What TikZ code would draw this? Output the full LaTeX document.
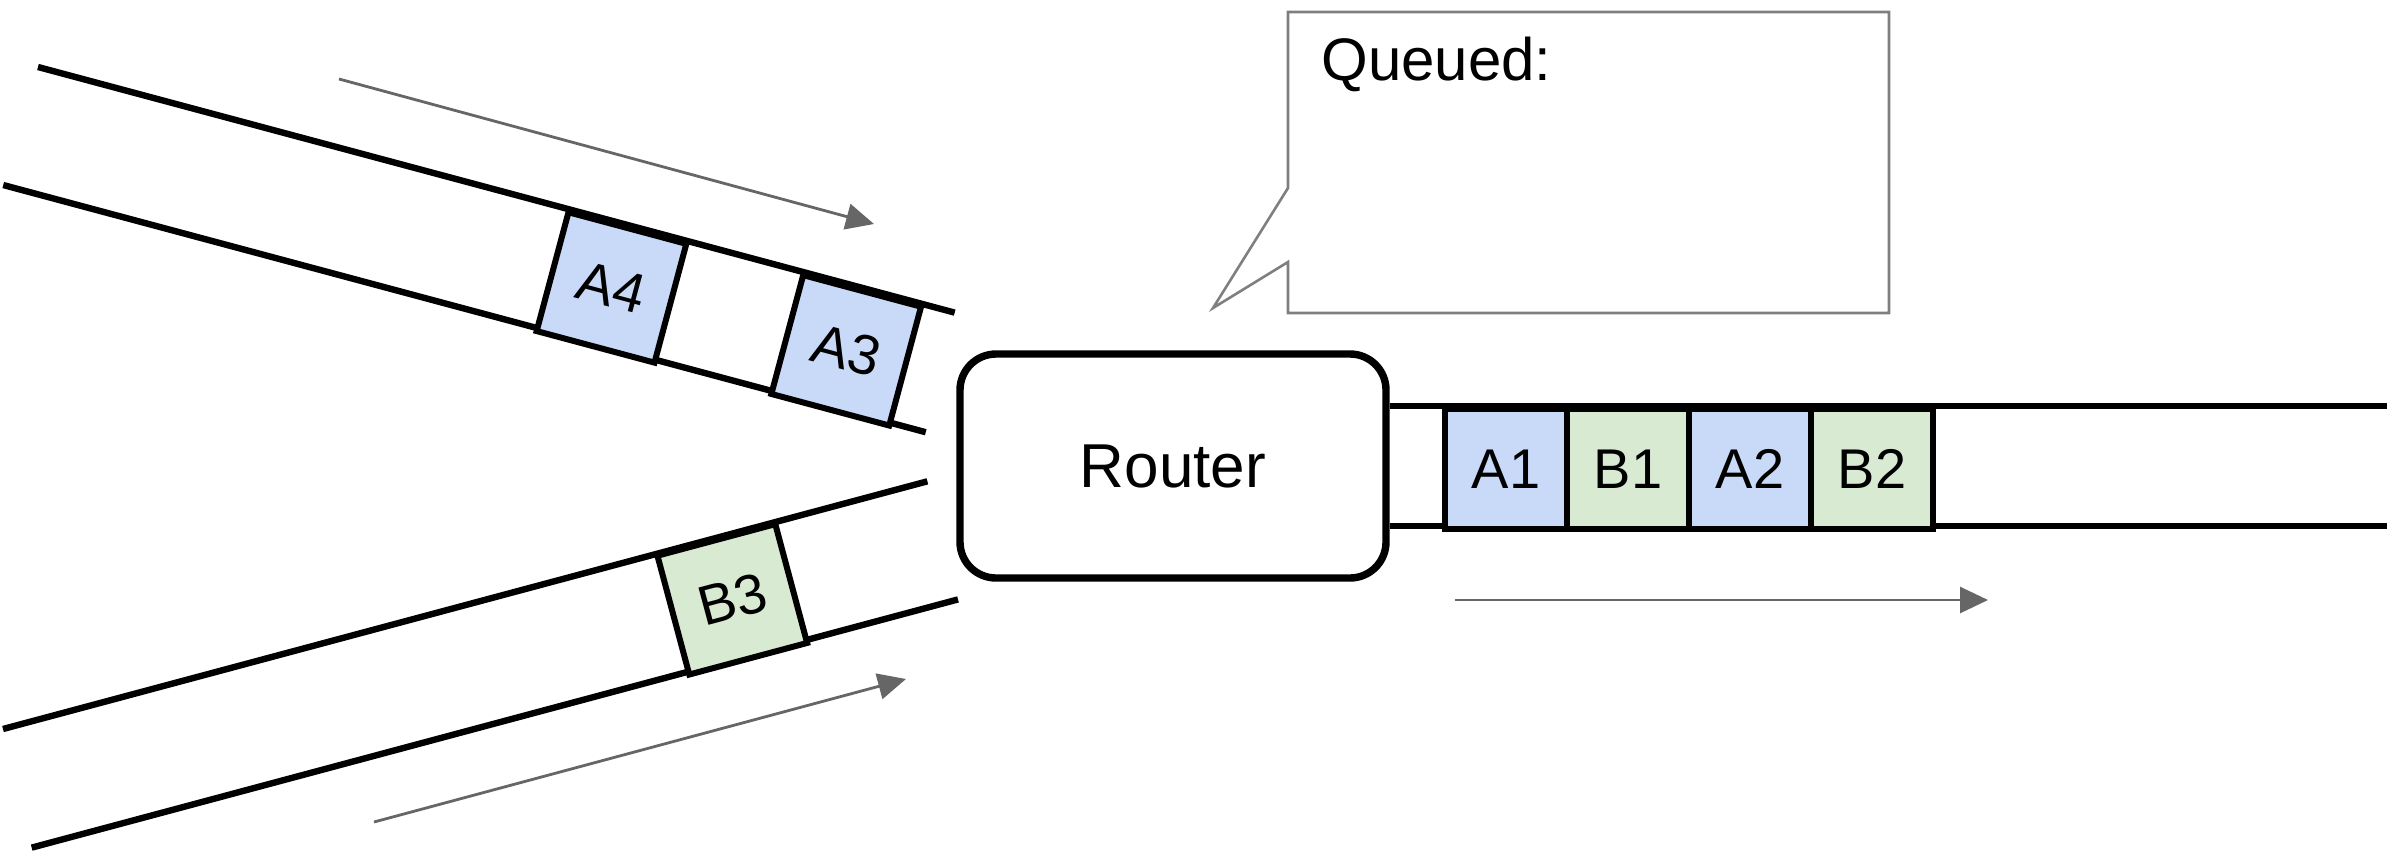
\documentclass[tikz,border=0pt]{standalone}
\usepackage{fontspec}
\setmainfont{Liberation Sans}
\usetikzlibrary{arrows.meta}
\definecolor{pktA}{HTML}{C9DAF8}
\definecolor{pktB}{HTML}{D9EAD3}
\definecolor{flowgray}{HTML}{666666}
\definecolor{calloutgray}{HTML}{7F7F7F}
\begin{document}
\begin{tikzpicture}[x=0.5pt,y=-0.5pt,
  wire/.style={line width=3.2pt, line cap=butt},
  pkt/.style={draw, line width=3pt, inner sep=0pt, anchor=north west,
    minimum width=61pt, font=\fontsize{28}{30}\selectfont},
  pktslant/.style={pkt, minimum height=61.5pt, transform shape},
  pktflat/.style={pkt, minimum height=60pt},
  flow/.style={draw=flowgray, line width=1.4pt, -{Triangle[length=14pt,width=13pt]}, flowgray},
  routerbox/.style={draw, line width=3.7pt, rounded corners=18pt, minimum width=213pt,
    minimum height=112pt, font=\fontsize{31}{33}\selectfont},
]
\useasboundingbox (0,0) rectangle (2392,852);

% --- incoming channel A
\begin{scope}[shift={(38,67)}, rotate=-15]
  \coordinate (aU0) at (0,0);   \coordinate (aU1) at (949,0);
  \coordinate (aL0) at (-3,123); \coordinate (aL1) at (952,123);
  \draw[wire] (aU0) -- (aU1);
  \draw[wire] (aL0) -- (aL1);
  \node[pktslant, fill=pktA] (A4) at (547,0) {A4};
  \node[pktslant, fill=pktA] (A3) at (790,0) {A3};
\end{scope}

% --- incoming channel B
\begin{scope}[shift={(3,729)}, rotate=15]
  \coordinate (bU0) at (0,0);    \coordinate (bU1) at (957,0);
  \coordinate (bL0) at (-3,122); \coordinate (bL1) at (956,122);
  \draw[wire] (bU0) -- (bU1);
  \draw[wire] (bL0) -- (bL1);
  \node[pktslant, fill=pktB] (B3) at (674,-1) {B3};
\end{scope}

% --- router
\node[routerbox] (router) at (1173,466) {Router};

% --- outgoing channel
\coordinate (oT1) at (2387,406);
\coordinate (oB1) at (2387,526);
\draw[wire] (router.east |- oT1) -- (oT1);
\draw[wire] (router.east |- oB1) -- (oB1);
\node[pktflat, fill=pktA] (A1) at (1442,406) {A1};
\node[pktflat, fill=pktB] (B1) at (1564,406) {B1};
\node[pktflat, fill=pktA] (A2) at (1686,406) {A2};
\node[pktflat, fill=pktB] (B2) at (1808,406) {B2};

% --- flow arrows
\coordinate (fa0) at (339,79);   \coordinate (fa1) at (874,224);
\coordinate (fb0) at (374,822);  \coordinate (fb1) at (906,679);
\coordinate (fc0) at (1455,600); \coordinate (fc1) at (1988,600);
\draw[flow] (fa0) -- (fa1);
\draw[flow] (fb0) -- (fb1);
\draw[flow] (fc0) -- (fc1);

% --- callout
\draw[calloutgray, line width=1.3pt, line join=miter]
  (1288,12) -- (1889,12) -- (1889,313) -- (1288,313) -- (1288,262)
  -- (1213,308) -- (1288,188) -- cycle;
\node[anchor=base west, inner sep=0pt, font=\fontsize{30}{32}\selectfont] (queued) at (1321,80) {Queued:};
\end{tikzpicture}
\end{document}
